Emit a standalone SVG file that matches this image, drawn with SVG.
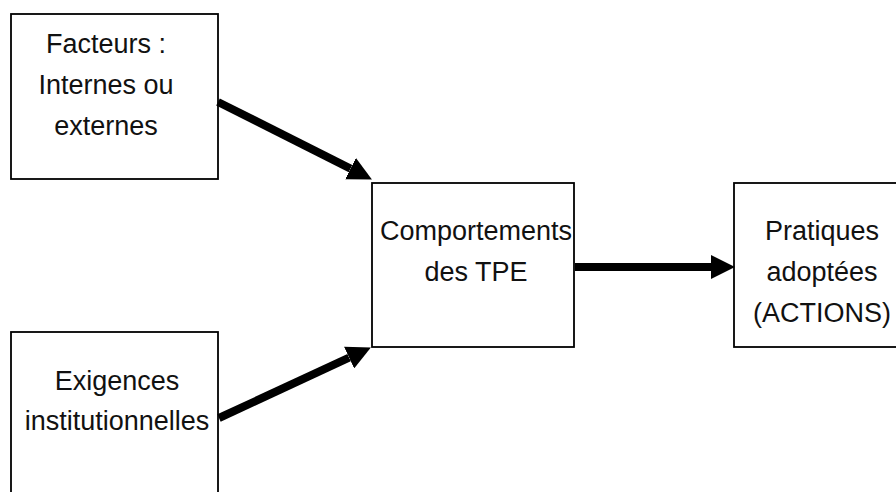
<svg xmlns="http://www.w3.org/2000/svg" width="896" height="492" viewBox="0 0 896 492">
  <defs>
    <style>
      .box { fill: #ffffff; stroke: #000000; stroke-width: 1.8; }
      .lbl { font-family: "Liberation Sans", Arial, sans-serif; font-size: 27px; fill: #111111; text-anchor: middle; }
      .conn { stroke: #000000; stroke-width: 8; fill: none; marker-end: url(#head); }
    </style>
    <marker id="head" markerUnits="userSpaceOnUse" viewBox="0 0 24 24" refX="0" refY="12" markerWidth="24" markerHeight="24" orient="auto">
      <path d="M0,0 L24,12 L0,24 z" fill="#000000"/>
    </marker>
  </defs>
  <rect width="896" height="492" fill="#ffffff"/>

  <g id="node-facteurs">
    <rect class="box" x="11" y="14" width="207" height="165"/>
    <text class="lbl" x="106" y="53">Facteurs :</text>
    <text class="lbl" x="106" y="94">Internes ou</text>
    <text class="lbl" x="106" y="135">externes</text>
  </g>

  <g id="node-exigences">
    <rect class="box" x="11" y="332" width="207" height="180"/>
    <text class="lbl" x="117" y="390">Exigences</text>
    <text class="lbl" x="117" y="430">institutionnelles</text>
  </g>

  <g id="node-comportements">
    <rect class="box" x="372" y="183" width="202" height="164"/>
    <text class="lbl" x="476" y="240">Comportements</text>
    <text class="lbl" x="476" y="281">des TPE</text>
  </g>

  <g id="node-pratiques">
    <rect class="box" x="734" y="183" width="180" height="164"/>
    <text class="lbl" x="822" y="240">Pratiques</text>
    <text class="lbl" x="822" y="281">adoptées</text>
    <text class="lbl" x="822" y="322">(ACTIONS)</text>
  </g>

  <g id="connectors">
    <line class="conn" x1="218" y1="102" x2="350.5" y2="168.6"/>
    <line class="conn" x1="219" y1="418" x2="349.1" y2="357.6"/>
    <line class="conn" x1="575" y1="267" x2="711" y2="267"/>
  </g>
</svg>
